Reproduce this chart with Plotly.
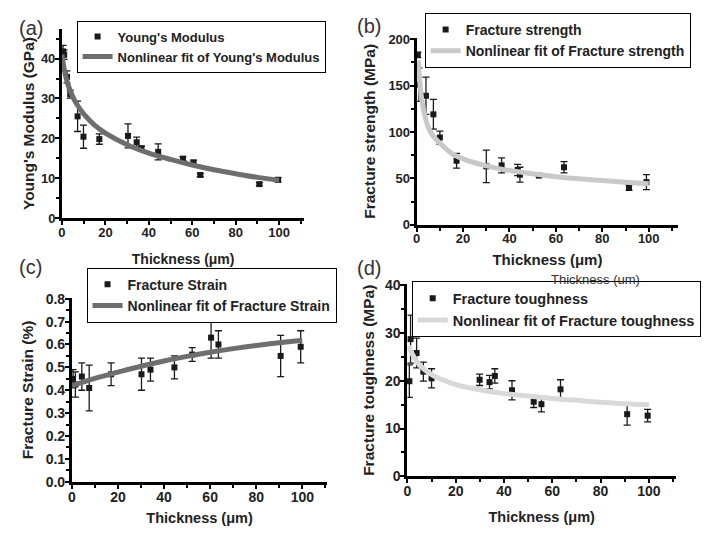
import plotly.graph_objects as go

# ---------------- data ----------------
# (a) Young's modulus
thick_a = [0.5, 1.0, 2.3, 3.8, 7.2, 9.9, 17.2, 30.4, 34.4, 36.6, 44.3, 55.7, 60.6, 63.7, 90.9, 99.5]
young_a = [41.8, 41.0, 35.4, 31.1, 25.5, 20.4, 19.8, 20.6, 19.0, 17.5, 16.6, 14.9, 13.9, 10.8, 8.5, 9.6]
young_err = [1.5, 1.2, 1.5, 1.0, 3.8, 2.9, 1.3, 3.0, 1.3, 0.5, 2.0, 0.5, 0.6, 0.4, 0.4, 0.5]
fit_x_a = [0, 1, 2, 3, 5, 7, 10, 15, 20, 30, 40, 50, 60, 70, 80, 90, 100]
fit_y_a = [41.0, 37.4, 35.0, 33.1, 30.4, 28.4, 26.1, 23.3, 21.3, 18.4, 16.3, 14.7, 13.3, 12.1, 11.1, 10.2, 9.5]

# (b) Fracture strength
thick_b = [0.5, 1.0, 4.0, 7.2, 10.0, 17.2, 30.0, 36.6, 43.5, 44.5, 52.7, 63.5, 91.5, 99.0]
strength_b = [183, 151, 139, 119, 94, 69, 63, 64, 59, 54, 53, 62, 40, 46]
strength_err = [3, 18, 20, 16, 7, 8, 17.5, 8, 6, 8, 1, 6, 3, 8]
fit_x_b = [0.7, 1.5, 2.5, 3.5, 5, 7, 10, 15, 20, 30, 40, 50, 60, 70, 80, 90, 100]
fit_y_b = [177, 150, 130, 118, 105, 96, 88, 77, 71, 63.5, 58.5, 55, 51.8, 49.5, 47.7, 45.8, 44.2]

# (c) Fracture strain
thick_c = [0.5, 1.5, 4.3, 7.5, 17.0, 30.2, 34.1, 44.5, 52.2, 60.4, 63.6, 90.6, 99.3]
strain_c = [0.45, 0.425, 0.46, 0.41, 0.47, 0.47, 0.49, 0.50, 0.556, 0.63, 0.60, 0.55, 0.59]
strain_err = [0.04, 0.055, 0.06, 0.10, 0.05, 0.07, 0.05, 0.05, 0.03, 0.09, 0.06, 0.09, 0.07]
fit_x_c = [0, 10, 20, 30, 40, 50, 60, 70, 80, 90, 100]
fit_y_c = [0.42, 0.452, 0.479, 0.505, 0.528, 0.548, 0.566, 0.582, 0.596, 0.608, 0.619]

# (d) Fracture toughness
thick_d = [0.8, 1.3, 3.8, 6.6, 10.0, 29.9, 34.0, 36.2, 43.3, 52.3, 55.5, 63.4, 91.0, 99.5]
tough_d = [19.9, 28.7, 25.8, 21.9, 20.5, 20.2, 19.7, 21.0, 18.0, 15.6, 15.1, 18.2, 13.0, 12.7]
tough_err = [3.4, 5.0, 3.1, 2.0, 2.0, 1.2, 1.4, 1.5, 2.0, 1.2, 1.6, 2.0, 2.3, 1.3]
fit_x_d = [0.5, 2, 5, 10, 15, 20, 30, 40, 50, 60, 70, 80, 90, 100]
fit_y_d = [27.3, 25.6, 23.3, 21.3, 20.1, 19.2, 18.1, 17.3, 16.8, 16.3, 15.9, 15.5, 15.2, 15.0]

# ---------------- style ----------------
W, H = 715, 543
FONT = "Liberation Sans, Arial, sans-serif"
TXT = "#222222"
INK = "#000000"


def px_x(p):
    return p / W


def px_y(p):
    return 1 - p / H


panels = [
    dict(sfx="", leg="legend", x=thick_a, y=young_a, e=young_err, fx=fit_x_a, fy=fit_y_a,
         name="Young's Modulus", fname="Nonlinear fit of Young's Modulus", fcol="#6e6e6e",
         dom_x=(58.3, 302), dom_y=(217, 22.7), xr=111.6, yr=47.4, ydt=10, ymdt=5, yfmt="",
         ytitle="Young's Modulus (GPa)", legpos=(73, 14), legfs=13, tfs=13,
         xtfs=14, ytfs=15.5, xso=16, yso=3),
    dict(sfx="2", leg="legend2", x=thick_b, y=strength_b, e=strength_err, fx=fit_x_b, fy=fit_y_b,
         name="Fracture strength", fname="Nonlinear fit of Fracture strength", fcol="#c9c9c9",
         dom_x=(415, 678), dom_y=(224, 31.7), xr=112.7, yr=201.4, ydt=50, ymdt=25, yfmt="",
         ytitle="Fracture strength (MPa)", legpos=(423, 6), legfs=14, tfs=13,
         xtfs=15, ytfs=15.5, xso=10, yso=9),
    dict(sfx="3", leg="legend3", x=thick_c, y=strain_c, e=strain_err, fx=fit_x_c, fy=fit_y_c,
         name="Fracture Strain", fname="Nonlinear fit of Fracture Strain", fcol="#6e6e6e",
         dom_x=(68.3, 325), dom_y=(488.3, 299.3), xr=110.8, yr=0.803, ydt=0.1, ymdt=0.05, yfmt=".1f",
         ytitle="Fracture Strain (%)", legpos=(83, 268), legfs=14, tfs=14,
         xtfs=14.5, ytfs=15.5, xso=10, yso=9),
    dict(sfx="4", leg="legend4", x=thick_d, y=tough_d, e=tough_err, fx=fit_x_d, fy=fit_y_d,
         name="Fracture toughness", fname="Nonlinear fit of Fracture toughness", fcol="#d9d9d9",
         dom_x=(405.7, 675.7), dom_y=(482.7, 285), xr=111.2, yr=40.2, ydt=10, ymdt=5, yfmt="",
         ytitle="Fracture toughness (MPa)", legpos=(410, 282), legfs=14.5, tfs=14,
         xtfs=14.5, ytfs=15.5, xso=14, yso=7),
]

fig = go.Figure()
layout = dict(
    width=W, height=H, margin=dict(l=0, r=0, t=0, b=0),
    paper_bgcolor="white", plot_bgcolor="white", showlegend=True,
    font=dict(family=FONT, color=TXT),
)

for p in panels:
    xa = "x" + p["sfx"]
    ya = "y" + p["sfx"]
    fig.add_trace(go.Scatter(
        x=p["x"], y=p["y"], mode="markers", name=p["name"],
        xaxis=xa, yaxis=ya, legend=p["leg"], cliponaxis=False,
        marker=dict(symbol="square", size=6, color="#1a1a1a"),
        error_y=dict(type="data", array=p["e"], visible=True, color="#1a1a1a",
                     thickness=1.3, width=3.5),
    ))
    fig.add_trace(go.Scatter(
        x=p["fx"], y=p["fy"], mode="lines", name=p["fname"],
        xaxis=xa, yaxis=ya, legend=p["leg"], cliponaxis=False,
        line=dict(color=p["fcol"], width=5, shape="spline", smoothing=1.0),
    ))
    tickfont = dict(family=FONT, size=p["tfs"], color=TXT, weight="bold")
    layout["xaxis" + p["sfx"]] = dict(
        domain=[px_x(p["dom_x"][0]), px_x(p["dom_x"][1])], anchor=ya,
        range=[0, p["xr"]], showline=True, linecolor=INK, linewidth=3,
        tickmode="linear", tick0=0, dtick=20,
        ticks="outside", ticklen=4, tickwidth=2, tickcolor=INK, ticklabelstandoff=-4,
        showgrid=False, zeroline=False, tickfont=tickfont,
        minor=dict(tickmode="linear", tick0=0, dtick=10, ticks="outside", ticklen=3,
                   tickwidth=2, tickcolor=INK, showgrid=False),
        title=dict(text="Thickness (μm)", standoff=p["xso"],
                   font=dict(family=FONT, size=p["xtfs"], color=TXT, weight="bold")),
    )
    layout["yaxis" + p["sfx"]] = dict(
        domain=[px_y(p["dom_y"][0]), px_y(p["dom_y"][1])], anchor=xa,
        range=[0, p["yr"]], showline=True, linecolor=INK, linewidth=3,
        tickmode="linear", tick0=0, dtick=p["ydt"], tickformat=p["yfmt"],
        ticks="outside", ticklen=4, tickwidth=2, tickcolor=INK, ticklabelstandoff=-3,
        showgrid=False, zeroline=False, tickfont=tickfont,
        minor=dict(tickmode="linear", tick0=0, dtick=p["ymdt"], ticks="outside", ticklen=3,
                   tickwidth=2, tickcolor=INK, showgrid=False),
        title=dict(text=p["ytitle"], standoff=p["yso"],
                   font=dict(family=FONT, size=p["ytfs"], color=TXT, weight="bold")),
    )
    layout[p["leg"]] = dict(
        x=px_x(p["legpos"][0]), y=px_y(p["legpos"][1]), xanchor="left", yanchor="top",
        bgcolor="white", bordercolor=INK, borderwidth=1, tracegroupgap=0,
        font=dict(family=FONT, size=p["legfs"], color=TXT, weight="bold"),
    )

labels = [("(a)", 27, 22), ("(b)", 367, 20), ("(c)", 27, 267), ("(d)", 367, 268)]
annotations = []
for t, x, y in labels:
    annotations.append(dict(
        text=t, x=px_x(x), y=px_y(y), xref="paper", yref="paper",
        xanchor="center", yanchor="middle", showarrow=False,
        font=dict(family=FONT, size=20, color="#333333"),
    ))
annotations.append(dict(
    text="Thickness (um)", x=px_x(595), y=px_y(280), xref="paper", yref="paper",
    xanchor="center", yanchor="middle", showarrow=False,
    font=dict(family=FONT, size=13, color="#333333"),
))
layout["annotations"] = annotations

fig.update_layout(**layout)
fig.write_html("out.html")
